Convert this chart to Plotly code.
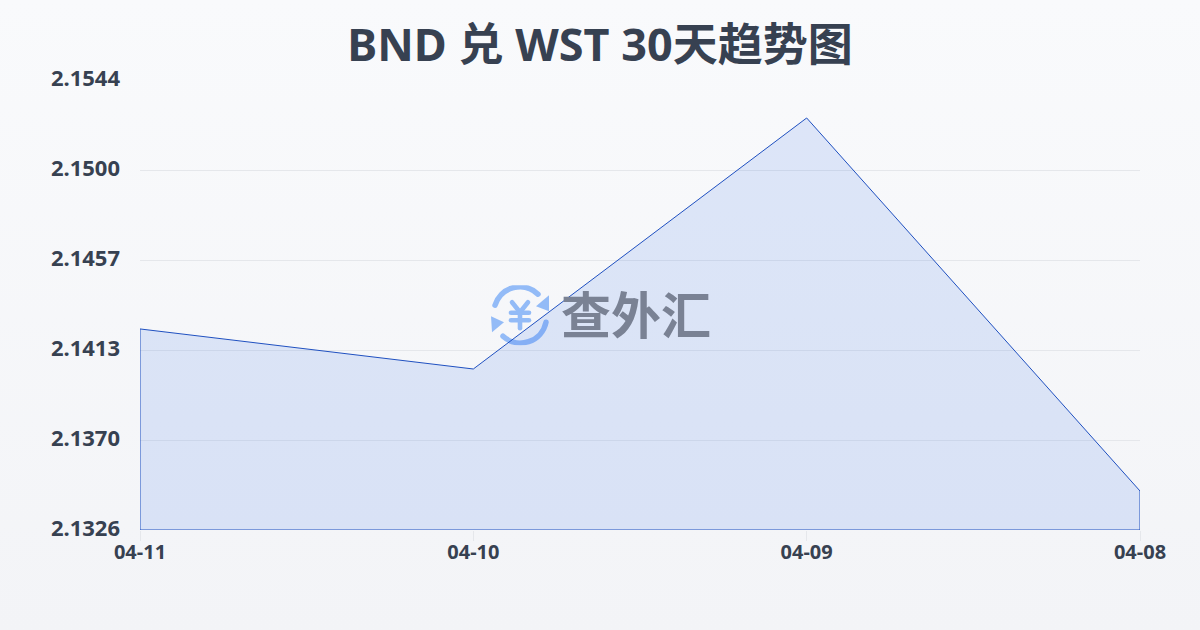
import plotly.graph_objects as go
from urllib.parse import quote

dates = ["04-11", "04-10", "04-09", "04-08"]
rates = [2.14234, 2.1404, 2.15256, 2.13449]
y_ticks = [2.1326, 2.13696, 2.14132, 2.14568, 2.15004, 2.1544]
y_labels = ["2.1326", "2.1370", "2.1413", "2.1457", "2.1500", "2.1544"]
title = "BND 兑 WST 30天趋势图"
watermark = "查外汇"
base = y_ticks[0]

INK = "#374151"
FONT = "Noto Sans, Noto Sans CJK SC"
CJK = "Noto Sans CJK SC"

# closed outline: baseline under the first point, the series, then back along the baseline
xs = [dates[0]] + dates + [dates[-1], dates[0]]
ys = [base] + rates + [base, base]

fig = go.Figure(go.Scatter(
    x=xs, y=ys, mode="lines", fill="toself",
    fillcolor="rgba(37,99,235,0.13)",
    line=dict(color="#1f50c0", width=1),
    cliponaxis=False,
    hoverinfo="skip", showlegend=False,
))

logo = """<svg xmlns='http://www.w3.org/2000/svg' viewBox='0 0 60 60' width='60' height='60'>
<g fill='none' stroke='#93bbf7' stroke-width='5.5' stroke-linecap='round'>
<path d='M5 20 A26 26 0 0 1 48 9'/>
<path d='M56 37 A26 26 0 0 1 13 51'/>
</g>
<path d='M59 10 L59 26 L46 21 Z' fill='#93bbf7'/>
<path d='M1 31 L2 47 L14 37 Z' fill='#93bbf7'/>
<g fill='none' stroke='#93bbf7' stroke-width='4.6' stroke-linecap='round' stroke-linejoin='round'>
<path d='M22 17 L30 27 L38 17'/>
<path d='M21 27.5 H39'/>
<path d='M21 35 H39'/>
<path d='M30 27 V43'/>
</g>
</svg>"""

fig.update_layout(
    width=1200, height=630,
    margin=dict(l=140, r=60, t=80, b=100),
    autosize=False,
    paper_bgcolor="rgba(0,0,0,0)",
    plot_bgcolor="rgba(0,0,0,0)",
    images=[dict(source="data:image/svg+xml," + quote(logo), xref="paper", yref="paper",
                 x=0.35, y=0.544, sizex=0.06, sizey=0.1333, xanchor="left", yanchor="top",
                 layer="below", sizing="contain", opacity=1)],
    title=dict(text=title, x=0.5, xanchor="center", xref="container",
               y=0.928, yanchor="middle",
               font=dict(family=FONT, size=45, color=INK, weight=700)),
    xaxis=dict(type="category", categoryorder="array", categoryarray=dates,
               range=[0, 3], showgrid=False, zeroline=False, showline=False,
               ticks="outside", ticklen=10, tickwidth=1, tickcolor="#e5e7eb",
               ticklabelstandoff=-6,
               tickfont=dict(family=FONT, size=20, color=INK, weight=700)),
    yaxis=dict(range=[y_ticks[0], y_ticks[-1]], tickmode="array", tickvals=y_ticks, ticktext=y_labels,
               showgrid=True, gridcolor="#e5e7eb", gridwidth=1, zeroline=False, showline=False,
               ticks="", tickfont=dict(family=FONT, size=22, color=INK, weight=700),
               ticklabelstandoff=19, ticklabelshift=-2),
    annotations=[dict(text=watermark, xref="paper", yref="paper",
                      x=0.4185, y=0.485, xanchor="left", yanchor="middle", showarrow=False,
                      font=dict(family=CJK, size=50, color="#7a8294", weight=700))],
)
page_css = ("document.documentElement.style.margin='0';"
            "document.body.style.margin='0';"
            "document.body.style.height='630px';"
            "document.body.style.background='linear-gradient(180deg,#f9fafc 0%,#f3f4f7 100%)';")
fig.write_html("out.html", config=dict(displayModeBar=False), post_script=page_css)
